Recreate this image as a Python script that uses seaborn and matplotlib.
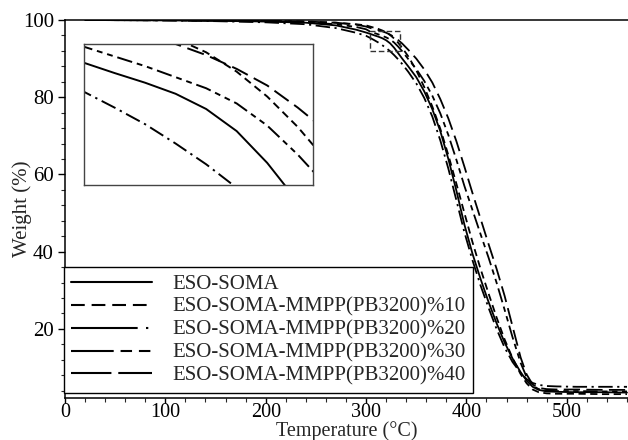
import matplotlib
matplotlib.use("Agg")
import matplotlib.pyplot as plt
import matplotlib.patches as mpatches
from matplotlib.ticker import MultipleLocator
import numpy as np
import pandas as pd
import seaborn as sns

# ---------------- data ----------------
temperature = [20, 100, 150, 200, 240, 270, 290, 300, 304, 308, 312, 316, 320, 324,
               328, 332, 336, 342, 350, 358, 366, 374, 382, 390, 398, 406, 414, 422,
               430, 438, 446, 454, 460, 466, 472, 480, 490, 510, 535, 560]

series_names = ["ESO-SOMA",
                "ESO-SOMA-MMPP(PB3200)%10",
                "ESO-SOMA-MMPP(PB3200)%20",
                "ESO-SOMA-MMPP(PB3200)%30",
                "ESO-SOMA-MMPP(PB3200)%40"]

w_eso = [100, 99.9, 99.8, 99.6, 99.3, 98.6, 97.5, 96.75, 96.42, 96.05, 95.7, 95.3, 94.75, 93.95,
         92.8, 91.4, 90.0, 88.0, 85.2, 81.5, 76.9, 71.2, 64.0, 55.8, 47.0, 39.5, 33.0, 27.0,
         21.5, 16.5, 12.3, 8.8, 6.6, 5.0, 4.2, 3.8, 3.7, 3.6, 3.6, 3.5]
w_10 = [100, 100, 99.9, 99.8, 99.6, 99.3, 98.9, 98.6, 98.3, 98.0, 97.7, 97.3, 96.8, 96.1,
        95.2, 94.1, 92.8, 90.6, 87.0, 82.6, 77.6, 71.8, 65.0, 57.6, 50.0, 42.5, 35.6, 29.2,
        23.0, 17.3, 12.4, 8.3, 5.9, 4.3, 3.6, 3.3, 3.2, 3.2, 3.1, 3.1]
w_20 = [100, 99.9, 99.7, 99.4, 98.9, 97.9, 96.7, 95.9, 95.37, 94.8, 94.2, 93.5, 92.75, 91.9,
        90.9, 89.8, 88.6, 86.6, 83.6, 79.8, 75.0, 68.8, 61.5, 53.3, 45.0, 37.8, 31.3, 25.5,
        20.0, 15.2, 11.4, 8.6, 7.0, 6.0, 5.5, 5.2, 5.1, 5.0, 5.0, 5.0]
w_30 = [100, 99.9, 99.8, 99.7, 99.4, 98.9, 98.2, 97.6, 97.0, 96.65, 96.3, 95.9, 95.5, 94.95,
        94.15, 93.1, 91.9, 89.9, 87.3, 84.2, 80.4, 75.8, 70.2, 63.8, 57.0, 50.8, 44.6, 38.5,
        32.0, 25.0, 17.8, 11.2, 7.5, 5.3, 4.4, 4.0, 3.9, 3.9, 3.8, 3.8]
w_40 = [100, 100, 99.9, 99.8, 99.6, 99.3, 98.8, 98.3, 97.95, 97.7, 97.4, 97.1, 96.7, 96.2,
        95.6, 94.8, 93.9, 92.3, 90.0, 87.2, 83.8, 79.5, 74.5, 68.6, 62.0, 55.2, 48.6, 42.0,
        35.6, 28.6, 20.6, 12.6, 8.2, 5.6, 4.7, 4.4, 4.3, 4.3, 4.2, 4.2]

x_ticks = [0, 100, 200, 300, 400, 500]
y_ticks = [20, 40, 60, 80, 100]

# zoom window shown in the inset
zoom_x = (304, 334)
zoom_y = (92.0, 97.1)

# ---------------- build table ----------------
weights = [w_eso, w_10, w_20, w_30, w_40]
frames = []
for name, w in zip(series_names, weights):
    frames.append(pd.DataFrame({"T": temperature, "W": w, "series": name}))
df = pd.concat(frames, ignore_index=True)

# ---------------- style ----------------
sns.set_style("ticks")
plt.rcParams["font.family"] = ["Liberation Serif", "DejaVu Serif"]

body_dashes = {
    series_names[0]: "",
    series_names[1]: (4, 2.5),
    series_names[2]: (8, 2.5, 1.2, 2.5),
    series_names[3]: (8, 2.5, 3, 2.5, 3, 2.5),
    series_names[4]: (9, 3.5),
}
legend_dashes = [None, (6.6, 3.3), (32, 4, 1.1, 10), (20.5, 3.3, 5.5, 3.3, 5.5, 3.3), (19.4, 3.3)]
palette = {n: "black" for n in series_names}
LW = 1.3

fig = plt.figure(figsize=(6.28, 4.4), dpi=100)
ax = fig.add_axes([65 / 628, 1 - 398 / 440, (628 - 65) / 628, (398 - 20) / 440])

sns.lineplot(data=df, x="T", y="W", hue="series", style="series",
             palette=palette, dashes=body_dashes, estimator=None, sort=False,
             linewidth=LW, ax=ax, legend="full")

ax.set_xlim(0, 561)
ax.set_ylim(2.1, 100)
ax.set_xticks(x_ticks)
ax.set_yticks(y_ticks)
ax.xaxis.set_minor_locator(MultipleLocator(20))
ax.yaxis.set_minor_locator(MultipleLocator(4))
ax.tick_params(axis="y", which="major", direction="out", length=5, width=1,
               labelsize=15, pad=3, colors="black")
ax.tick_params(axis="x", which="major", direction="out", length=3.5, width=1,
               labelsize=14.5, pad=0, colors="black")
ax.tick_params(axis="both", which="minor", direction="out", length=3, width=0.8)
ax.set_xlabel("Temperature (°C)", fontsize=14.5)
ax.set_ylabel("Weight (%)", fontsize=15)
ax.xaxis.set_label_coords(0.5, -(421 - 398) / 378)
ax.yaxis.set_label_coords(-(65 - 32) / 563, 0.5)
for side in ["left", "bottom", "top"]:
    ax.spines[side].set_visible(True)
    ax.spines[side].set_color("black")
    ax.spines[side].set_linewidth(1.1)
ax.spines["right"].set_visible(False)

# dashed zoom rectangle
ax.add_patch(mpatches.Rectangle((zoom_x[0], zoom_y[0]), zoom_x[1] - zoom_x[0],
                                zoom_y[1] - zoom_y[0], fill=False,
                                edgecolor="#333333", linewidth=1.0,
                                linestyle=(0, (4, 2)), zorder=5))

# legend
handles, labels = ax.get_legend_handles_labels()
pairs = [(h, l) for h, l in zip(handles, labels) if l in series_names]
handles = [p[0] for p in pairs]
labels = [p[1] for p in pairs]
leg = ax.legend(handles, labels, loc="lower left",
                bbox_to_anchor=(64 / 628, 1 - 393 / 440),
                bbox_transform=fig.transFigure,
                fontsize=15, frameon=True, fancybox=False, shadow=False,
                framealpha=1, edgecolor="black", handlelength=3.85,
                handletextpad=1.0, labelspacing=0.16, borderpad=0.35,
                borderaxespad=0)
leg.get_frame().set_linewidth(1.0)
for line, d in zip(leg.get_lines(), legend_dashes):
    line.set_linewidth(1.5)
    line.set_color("black")
    if d is None:
        line.set_linestyle("-")
    else:
        line.set_linestyle((0, d))
leg.set_zorder(10)

# inset
ax_in = fig.add_axes([84 / 628, 1 - 185 / 440, 229 / 628, 141 / 440])
sns.lineplot(data=df, x="T", y="W", hue="series", style="series",
             palette=palette, dashes=body_dashes, estimator=None, sort=False,
             linewidth=1.4, ax=ax_in, legend=False)
ax_in.set_xlim(*zoom_x)
ax_in.set_ylim(*zoom_y)
ax_in.set_xticks([])
ax_in.set_yticks([])
ax_in.set_xlabel("")
ax_in.set_ylabel("")
for s in ax_in.spines.values():
    s.set_visible(True)
    s.set_color("#444444")
    s.set_linewidth(1.0)

fig.savefig("out.png", dpi=100)
